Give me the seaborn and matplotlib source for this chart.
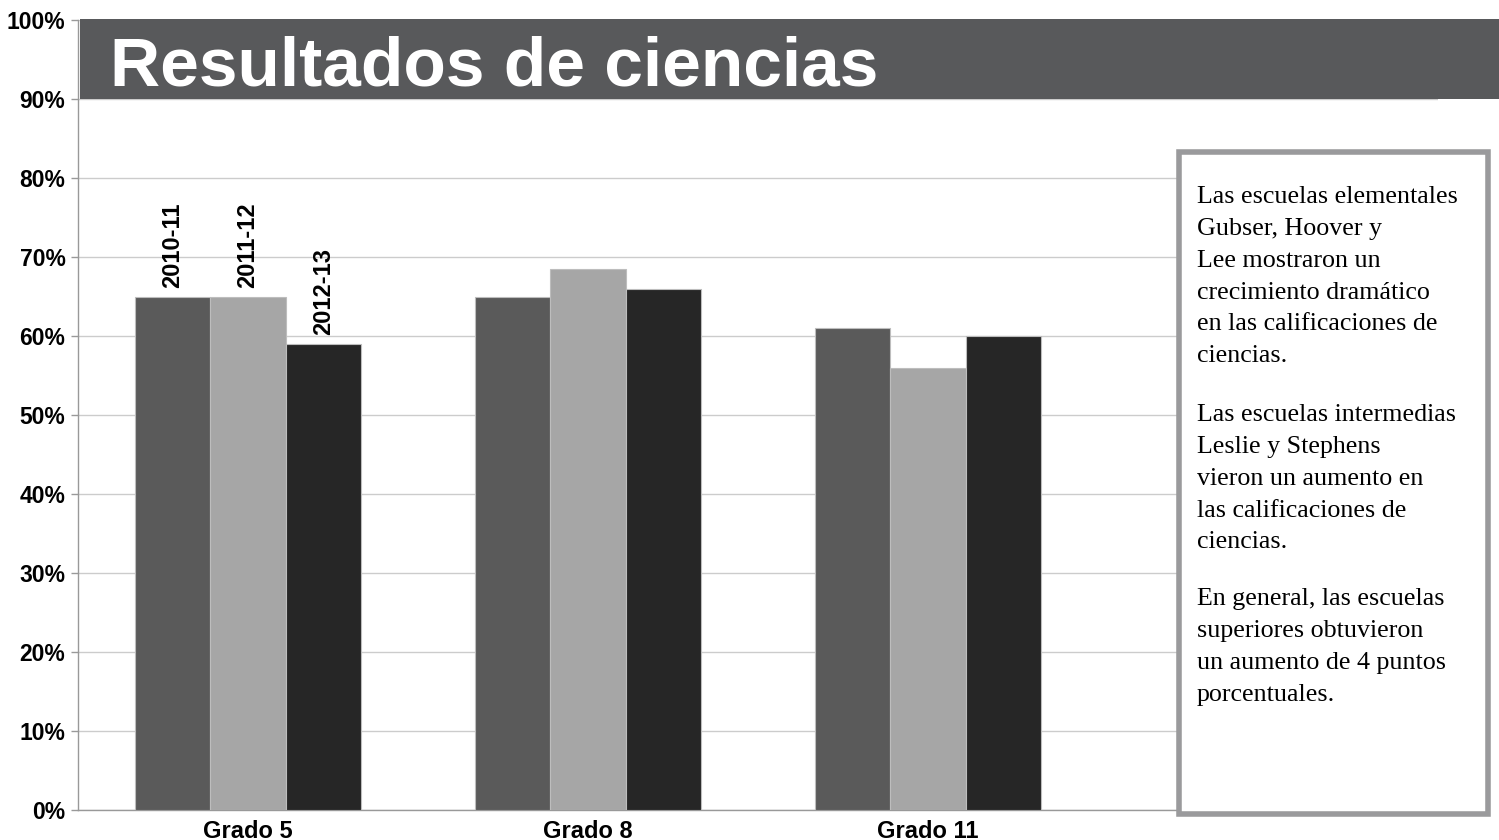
import pandas as pd
import matplotlib.pyplot as plt
import seaborn as sns
from matplotlib.patches import Rectangle

# Data
grades = ['Grado 5', 'Grado 8', 'Grado 11']
years = ['2010-11', '2011-12', '2012-13']
scores_2010 = [65, 65, 61]
scores_2011 = [65, 68.5, 56]
scores_2012 = [59, 66, 60]
yticks = [0, 10, 20, 30, 40, 50, 60, 70, 80, 90, 100]
colors = ['#5a5a5a', '#a6a6a6', '#262626']

notes = [
    "Las escuelas elementales\nGubser, Hoover y\nLee mostraron un\ncrecimiento dramático\nen las calificaciones de\nciencias.",
    "Las escuelas intermedias\nLeslie y Stephens\nvieron un aumento en\nlas calificaciones de\nciencias.",
    "En general, las escuelas\nsuperiores obtuvieron\nun aumento de 4 puntos\nporcentuales.",
]

df = pd.DataFrame({
    'grado': grades * 3,
    'año': [y for y in years for _ in grades],
    'valor': scores_2010 + scores_2011 + scores_2012,
})

sns.set_style('white')
plt.rcParams['font.family'] = ['Liberation Sans', 'DejaVu Sans']
plt.rcParams['text.color'] = 'black'
plt.rcParams['xtick.labelcolor'] = 'black'
plt.rcParams['ytick.labelcolor'] = 'black'

fig = plt.figure(figsize=(14.99, 8.4), dpi=100)
ax = fig.add_axes([78 / 1499, 30 / 840, 1360 / 1499, 790 / 840])

sns.barplot(data=df, x='grado', y='valor', hue='año', palette=colors,
            width=0.667, edgecolor='#bdbdbd', linewidth=0.8,
            ax=ax, legend=False, zorder=3)

ax.set_xlim(-0.5, 3.5)
ax.set_ylim(0, 100)
ax.set_yticks(yticks)
ax.set_yticklabels([f'{v}%' for v in yticks], fontsize=16.5, fontweight='bold')
ax.set_xticks([0, 1, 2])
ax.set_xticklabels(grades, fontsize=17, fontweight='bold')
ax.set_xticks([-0.5, 0.5, 1.5, 2.5, 3.5], minor=True)
ax.tick_params(axis='x', which='major', length=0, pad=7)
ax.tick_params(axis='x', which='minor', length=6, color='#999999', width=1)
ax.tick_params(axis='y', length=5, color='#999999', width=1, pad=4, left=True)
ax.set_xlabel('')
ax.set_ylabel('')
ax.yaxis.grid(True, color='#cccccc', linewidth=1, zorder=0)
for s in ['top', 'right']:
    ax.spines[s].set_visible(False)
for s in ['left', 'bottom']:
    ax.spines[s].set_color('#999999')
    ax.spines[s].set_linewidth(1)

# Year labels over the first group of bars
for cont, year in zip(ax.containers, years):
    bar = cont[0]
    ax.text(bar.get_x() + bar.get_width() / 2, bar.get_height() + 1.1, year,
            rotation=90, ha='center', va='bottom', fontsize=17, fontweight='bold')

# Title banner
fig.patches.append(Rectangle((80 / 1499, 741 / 840), 1419 / 1499, 80 / 840,
                             transform=fig.transFigure, facecolor='#58595b',
                             edgecolor='none', zorder=5))
fig.text(110 / 1499, 754 / 840, 'Resultados de ciencias', color='white',
         fontsize=50, fontweight='bold', ha='left', va='baseline', zorder=6)

# Notes box
fig.patches.append(Rectangle((1179 / 1499, 26 / 840), 309 / 1499, 662 / 840,
                             transform=fig.transFigure, facecolor='white',
                             edgecolor='#9a9a9c', linewidth=4, zorder=5))
tops = [186, 404, 588]
for note, top in zip(notes, tops):
    fig.text(1197 / 1499, 1 - top / 840, note, ha='left', va='top',
             fontsize=18.7, family=['Liberation Serif', 'DejaVu Serif'],
             linespacing=1.58, zorder=6)

fig.savefig('out.png', dpi=100)
